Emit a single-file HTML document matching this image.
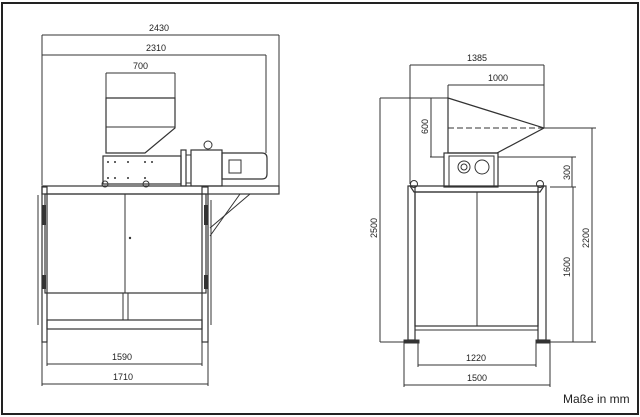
<!DOCTYPE html>
<html><head><meta charset="utf-8"><style>
html,body{margin:0;padding:0;background:#fff;}
svg{display:block;}
text{font-family:"Liberation Sans",sans-serif;font-size:9px;fill:#222;}
</style></head><body>
<svg width="640" height="417" viewBox="0 0 640 417" xmlns="http://www.w3.org/2000/svg">
<rect x="2" y="3" width="636" height="411" fill="#fff" stroke="#222" stroke-width="2"/>
<g stroke="#333" fill="none" stroke-width="1">
<!-- LEFT VIEW dims -->
<line x1="42" y1="35" x2="279" y2="35"/>
<line x1="42" y1="55" x2="266" y2="55"/>
<line x1="42" y1="35" x2="42" y2="185"/>
<line x1="279" y1="35" x2="279" y2="186"/>
<line x1="266" y1="55" x2="266" y2="153"/>
<line x1="106" y1="73" x2="175" y2="73"/>
<line x1="106" y1="73" x2="106" y2="98"/>
<line x1="175" y1="73" x2="175" y2="98"/>
<!-- hopper -->
<polygon points="106,98 175,98 175,128 145,153 106,153" stroke-width="1.2"/>
<line x1="106" y1="127" x2="175" y2="127"/>
<!-- cutter box -->
<rect x="103" y="156" width="78" height="28" stroke-width="1.2"/>
<rect x="181" y="150" width="5" height="36" stroke-width="1.2"/>
<rect x="186" y="155" width="5" height="28"/>
<rect x="191" y="150" width="31" height="36" stroke-width="1.2"/>
<circle cx="208" cy="145" r="4"/>
<path d="M222 153 H262 Q267 153 267 158 V174 Q267 179 262 179 H222 Z" stroke-width="1.2"/>
<rect x="229" y="160" width="12" height="13"/>
<circle cx="105" cy="184" r="3"/><circle cx="146" cy="184" r="3"/>
<!-- table -->
<rect x="42" y="186" width="237" height="8" stroke-width="1.2"/>
<!-- cabinet -->
<rect x="45" y="194" width="161" height="99" stroke-width="1.2"/>
<line x1="125" y1="194" x2="125" y2="293"/>
<rect x="42" y="187" width="5" height="155" stroke-width="1.2"/>
<rect x="202" y="187" width="6" height="155" stroke-width="1.2"/>
<line x1="38" y1="195" x2="38" y2="325"/>
<line x1="211" y1="200" x2="211" y2="325"/>
<rect x="123" y="293" width="5" height="27"/>
<rect x="47" y="320" width="155" height="9" stroke-width="1.2"/>
<line x1="210" y1="228" x2="250" y2="194"/>
<line x1="210" y1="236" x2="240" y2="194"/>
<!-- bottom dims -->
<line x1="47" y1="342" x2="47" y2="366"/>
<line x1="202" y1="342" x2="202" y2="366"/>
<line x1="42" y1="342" x2="42" y2="386"/>
<line x1="208" y1="342" x2="208" y2="386"/>
<line x1="47" y1="364" x2="202" y2="364"/>
<line x1="42" y1="384" x2="208" y2="384"/>

<!-- RIGHT VIEW -->
<line x1="410" y1="65" x2="544" y2="65"/>
<line x1="448" y1="85" x2="544" y2="85"/>
<line x1="410" y1="65" x2="410" y2="184"/>
<line x1="544" y1="65" x2="544" y2="128"/>
<line x1="448" y1="85" x2="448" y2="98"/>
<polygon points="448,98 544,128 497,153 448,153" stroke-width="1.2"/>
<line x1="448" y1="128" x2="544" y2="128" stroke-dasharray="6,3"/>
<line x1="380" y1="98" x2="448" y2="98"/>
<line x1="431" y1="98" x2="431" y2="157"/>
<line x1="430" y1="157" x2="444" y2="157"/>
<rect x="444" y="153" width="54" height="34" stroke-width="1.2"/>
<rect x="449" y="156" width="45" height="31"/>
<circle cx="464" cy="167" r="6"/><circle cx="464" cy="167" r="3"/>
<circle cx="482" cy="167" r="7"/>
<line x1="380" y1="98" x2="380" y2="342"/>
<line x1="498" y1="157" x2="576" y2="157"/>
<line x1="544" y1="128" x2="596" y2="128"/>
<line x1="572" y1="157" x2="572" y2="187"/>
<line x1="550" y1="187" x2="576" y2="187"/>
<line x1="592" y1="128" x2="592" y2="342"/>
<line x1="573" y1="187" x2="573" y2="342"/>
<circle cx="414" cy="184" r="3.5"/><circle cx="540" cy="184" r="3.5"/>
<polygon points="410,186 544,186 540,192 414,192" stroke-width="1.2"/>
<rect x="415" y="192" width="123" height="134" stroke-width="1.2"/>
<line x1="477" y1="192" x2="477" y2="326"/>
<rect x="415" y="326" width="123" height="4"/>
<rect x="408" y="186" width="7" height="154" stroke-width="1.2"/>
<rect x="538" y="186" width="8" height="154" stroke-width="1.2"/>
<line x1="546" y1="200" x2="546" y2="295"/>
<rect x="404" y="340" width="15" height="3" fill="#333"/>
<rect x="536" y="340" width="14" height="3" fill="#333"/>
<line x1="380" y1="342" x2="404" y2="342"/>
<line x1="550" y1="342" x2="596" y2="342"/>
<line x1="418" y1="343" x2="418" y2="367"/>
<line x1="536" y1="343" x2="536" y2="367"/>
<line x1="404" y1="343" x2="404" y2="387"/>
<line x1="550" y1="343" x2="550" y2="387"/>
<line x1="418" y1="365" x2="536" y2="365"/>
<line x1="404" y1="385" x2="550" y2="385"/>
</g>
<g fill="#333">
<circle cx="130" cy="238" r="1.2"/>
<circle cx="108" cy="162" r="1"/><circle cx="115" cy="162" r="1"/><circle cx="128" cy="162" r="1"/><circle cx="145" cy="162" r="1"/><circle cx="152" cy="162" r="1"/>
<circle cx="108" cy="178" r="1"/><circle cx="115" cy="178" r="1"/><circle cx="128" cy="178" r="1"/><circle cx="145" cy="178" r="1"/>
<rect x="42" y="205" width="4" height="20"/><rect x="42" y="275" width="4" height="14"/>
<rect x="204" y="205" width="4" height="20"/><rect x="204" y="275" width="4" height="14"/>
</g>
<text x="149" y="31">2430</text>
<text x="146" y="51">2310</text>
<text x="133" y="69">700</text>
<text x="112" y="360">1590</text>
<text x="113" y="380">1710</text>
<text x="467" y="61">1385</text>
<text x="488" y="81">1000</text>
<text x="466" y="361">1220</text>
<text x="467" y="381">1500</text>
<text transform="translate(428,134) rotate(-90)">600</text>
<text transform="translate(377,238) rotate(-90)">2500</text>
<text transform="translate(570,180) rotate(-90)">300</text>
<text transform="translate(589,248) rotate(-90)">2200</text>
<text transform="translate(570,277) rotate(-90)">1600</text>
<text x="563" y="403" style="font-size:12px">Maße in mm</text>
</svg>
</body></html>
